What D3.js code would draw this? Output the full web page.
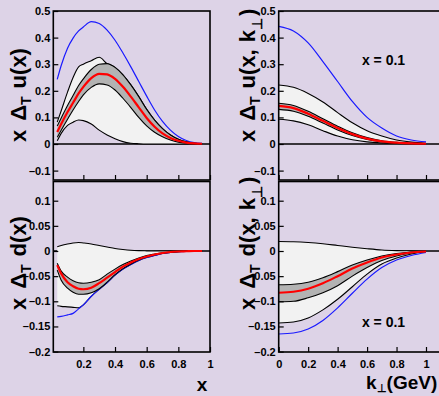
<!DOCTYPE html>
<html>
<head>
<meta charset="utf-8">
<script src="https://cdn.jsdelivr.net/npm/d3@7"></script>
<style>
  body { margin: 0; background: #ddd3e7; }
  svg { display: block; }
  .tick text { font-family: "Liberation Sans Narrow", "Liberation Sans", Arial, sans-serif; font-weight: bold; font-size: 11px; fill: #000; }
  .title { font-family: "Liberation Sans", Arial, sans-serif; font-weight: bold; fill: #000; }
  .note { font-family: "Liberation Sans Narrow", "Liberation Sans", Arial, sans-serif; font-weight: bold; fill: #000; }
</style>
</head>
<body>
<script>
// x grid for the two left panels, k_perp grid for the right ones
const xGrid = [0.035, 0.06, 0.1, 0.135, 0.17, 0.2, 0.25, 0.3, 0.35, 0.4, 0.45, 0.5, 0.55, 0.6, 0.65, 0.7, 0.75, 0.8, 0.85, 0.9, 0.95];
const kGrid = [0, 0.1, 0.2, 0.3, 0.4, 0.5, 0.6, 0.7, 0.8, 0.9, 1.0];

// x Δ_T u(x)
const uxBlue = [0.243, 0.295, 0.36, 0.398, 0.425, 0.44, 0.46, 0.453, 0.428, 0.39, 0.342, 0.29, 0.235, 0.18, 0.128, 0.085, 0.052, 0.028, 0.013, 0.005, 0.002];
const uxRed = [0.045, 0.075, 0.12, 0.155, 0.19, 0.215, 0.248, 0.264, 0.262, 0.245, 0.215, 0.178, 0.138, 0.098, 0.065, 0.04, 0.023, 0.012, 0.005, 0.002, 0.001];
const uxDarkUp = [0.068, 0.098, 0.145, 0.182, 0.22, 0.245, 0.28, 0.3, 0.302, 0.288, 0.26, 0.222, 0.178, 0.13, 0.09, 0.058, 0.034, 0.018, 0.008, 0.003, 0.001];
const uxDarkLo = [0.025, 0.052, 0.093, 0.128, 0.16, 0.185, 0.213, 0.226, 0.222, 0.203, 0.172, 0.137, 0.1, 0.068, 0.044, 0.027, 0.015, 0.007, 0.003, 0.001, 0];
const uxLightUp = [0.082, 0.125, 0.195, 0.25, 0.29, 0.3, 0.313, 0.326, 0.302, 0.288, 0.26, 0.222, 0.178, 0.13, 0.09, 0.058, 0.034, 0.018, 0.008, 0.003, 0.001];
const uxLightLo = [0.012, 0.04, 0.07, 0.082, 0.09, 0.088, 0.075, 0.052, 0.034, 0.02, 0.009, 0.003, 0.001, 0, 0, 0, 0, 0, 0, 0, 0];

// x Δ_T d(x)
const dxBlue = [-0.131, -0.13, -0.127, -0.124, -0.115, -0.107, -0.09, -0.076, -0.063, -0.048, -0.036, -0.027, -0.019, -0.013, -0.009, -0.005, -0.003, -0.0015, -0.0006, 0, 0];
const dxRed = [-0.028, -0.045, -0.062, -0.07, -0.075, -0.076, -0.073, -0.064, -0.053, -0.042, -0.031, -0.023, -0.016, -0.011, -0.007, -0.004, -0.002, -0.001, -0.0005, 0, 0];
const dxDarkUp = [-0.0245, -0.04, -0.052, -0.059, -0.063, -0.064, -0.062, -0.057, -0.046, -0.036, -0.027, -0.02, -0.014, -0.009, -0.006, -0.0035, -0.002, -0.001, -0.0005, 0, 0];
const dxDarkLo = [-0.038, -0.058, -0.074, -0.082, -0.086, -0.086, -0.083, -0.075, -0.062, -0.047, -0.035, -0.026, -0.018, -0.012, -0.008, -0.0045, -0.0025, -0.0012, -0.0005, 0, 0];
const dxLightUp = [0.0085, 0.011, 0.014, 0.016, 0.017, 0.016, 0.014, 0.011, 0.008, 0.005, 0.003, 0.0015, 0.0007, 0.0003, 0, 0, 0, 0, 0, 0, 0];
const dxLightLo = [-0.109, -0.11, -0.111, -0.112, -0.113, -0.107, -0.09, -0.076, -0.063, -0.048, -0.036, -0.027, -0.019, -0.013, -0.009, -0.005, -0.003, -0.0015, -0.0006, 0, 0];

// x Δ_T u(x, k⊥) at x = 0.1
const ukBlue = [0.4425, 0.425, 0.38, 0.31, 0.235, 0.16, 0.1, 0.06, 0.03, 0.015, 0.008];
const ukRed = [0.143, 0.135, 0.114, 0.087, 0.06, 0.037, 0.02, 0.01, 0.005, 0.002, 0.001];
const ukDarkUp = [0.153, 0.145, 0.123, 0.095, 0.067, 0.042, 0.024, 0.012, 0.006, 0.003, 0.001];
const ukDarkLo = [0.13, 0.123, 0.104, 0.079, 0.053, 0.032, 0.017, 0.008, 0.004, 0.002, 0.001];
const ukLightUp = [0.222, 0.213, 0.19, 0.158, 0.118, 0.08, 0.05, 0.03, 0.015, 0.007, 0.003];
const ukLightLo = [0.093, 0.087, 0.072, 0.05, 0.03, 0.016, 0.008, 0.004, 0.002, 0.001, 0];

// x Δ_T d(x, k⊥) at x = 0.1
const dkBlue = [-0.165, -0.163, -0.155, -0.138, -0.113, -0.084, -0.056, -0.033, -0.018, -0.009, -0.003];
const dkRed = [-0.083, -0.081, -0.075, -0.064, -0.05, -0.035, -0.023, -0.013, -0.007, -0.003, -0.001];
const dkDarkUp = [-0.067, -0.066, -0.062, -0.053, -0.041, -0.028, -0.018, -0.01, -0.005, -0.002, -0.001];
const dkDarkLo = [-0.101, -0.1, -0.093, -0.083, -0.069, -0.05, -0.033, -0.019, -0.01, -0.004, -0.001];
const dkLightUp = [0.019, 0.0185, 0.017, 0.0145, 0.011, 0.0075, 0.0045, 0.002, 0.0008, 0.0003, 0];
const dkLightLo = [-0.143, -0.141, -0.133, -0.117, -0.096, -0.071, -0.046, -0.026, -0.014, -0.006, -0.001];

// tick labels
const xTicksLeft = [0.2, 0.4, 0.6, 0.8, 1];
const xTicksRight = [0, 0.2, 0.4, 0.6, 0.8, 1];
const yTicksTop = [0.5, 0.4, 0.3, 0.2, 0.1, 0, -0.1];
const yTicksBottom = [0.1, 0.05, 0, -0.05, -0.1, -0.15, -0.2];

const W = 439, H = 396;
const svg = d3.select("body").append("svg").attr("width", W).attr("height", H);
svg.append("rect").attr("width", W).attr("height", H).attr("fill", "#ddd3e7");

// scales
const xLeft = d3.scaleLinear().domain([0, 1]).range([51.7, 210]);
const xRight = d3.scaleLinear().domain([0, 1]).range([278.7, 426]);
const yTop = d3.scaleLinear().domain([-0.1, 0.5]).range([170.6, 11]);
const yBot = d3.scaleLinear().domain([-0.2, 0.1]).range([351.6, 200.7]);

const panels = [
  { id: "tl", x: xLeft, y: yTop, grid: xGrid, box: [53.3, 11, 210, 180], ticksX: xTicksLeft, ticksY: yTicksTop, showX: false,
    blue: uxBlue, red: uxRed, darkUp: uxDarkUp, darkLo: uxDarkLo, lightUp: uxLightUp, lightLo: uxLightLo },
  { id: "bl", x: xLeft, y: yBot, grid: xGrid, box: [53.3, 181.5, 210, 352], ticksX: xTicksLeft, ticksY: yTicksBottom, showX: true,
    blue: dxBlue, red: dxRed, darkUp: dxDarkUp, darkLo: dxDarkLo, lightUp: dxLightUp, lightLo: dxLightLo },
  { id: "tr", x: xRight, y: yTop, grid: kGrid, box: [278.7, 11, 442, 180], ticksX: xTicksRight, ticksY: yTicksTop, showX: false,
    blue: ukBlue, red: ukRed, darkUp: ukDarkUp, darkLo: ukDarkLo, lightUp: ukLightUp, lightLo: ukLightLo },
  { id: "br", x: xRight, y: yBot, grid: kGrid, box: [278.7, 181.5, 442, 352], ticksX: xTicksRight, ticksY: yTicksBottom, showX: true,
    blue: dkBlue, red: dkRed, darkUp: dkDarkUp, darkLo: dkDarkLo, lightUp: dkLightUp, lightLo: dkLightLo }
];

panels.forEach(p => {
  const [x0, y0, x1, y1] = p.box;
  svg.append("clipPath").attr("id", "clip-" + p.id)
    .append("rect").attr("x", x0).attr("y", y0).attr("width", x1 - x0).attr("height", y1 - y0);
  const g = svg.append("g").attr("clip-path", `url(#clip-${p.id})`);

  const pts = (ys) => p.grid.map((v, i) => [v, ys[i]]);
  const line = d3.line().x(d => p.x(d[0])).y(d => p.y(d[1])).curve(d3.curveMonotoneX);
  const band = (up, lo) => d3.area().x((d, i) => p.x(p.grid[i])).y0((d, i) => p.y(lo[i])).y1((d, i) => p.y(up[i])).curve(d3.curveMonotoneX)(p.grid);

  // zero line
  g.append("line").attr("x1", x0).attr("x2", x1).attr("y1", p.y(0)).attr("y2", p.y(0))
    .attr("stroke", "#000").attr("stroke-width", 1.3);

  // wide light band
  g.append("path").attr("d", band(p.lightUp, p.lightLo)).attr("fill", "#f2f2f2");
  [p.lightUp, p.lightLo].forEach(s => g.append("path").attr("d", line(pts(s)))
    .attr("fill", "none").attr("stroke", "#000").attr("stroke-width", 1.1));

  // blue curve
  g.append("path").attr("d", line(pts(p.blue))).attr("fill", "none").attr("stroke", "#1a1aff").attr("stroke-width", 1.2);

  // narrow dark band
  g.append("path").attr("d", band(p.darkUp, p.darkLo)).attr("fill", "#b3b3b3");
  [p.darkUp, p.darkLo].forEach(s => g.append("path").attr("d", line(pts(s)))
    .attr("fill", "none").attr("stroke", "#000").attr("stroke-width", 1.1));

  // central red curve
  g.append("path").attr("d", line(pts(p.red))).attr("fill", "none").attr("stroke", "#ff0000").attr("stroke-width", 2.2);

  // axes
  const ay = svg.append("g").attr("transform", `translate(${x0},0)`)
    .call(d3.axisLeft(p.y).tickValues(p.ticksY).tickSize(-5).tickPadding(3).tickFormat(d => d3.format("~g")(d).replace("−", "–")));
  const ax = svg.append("g").attr("transform", `translate(0,${y1})`)
    .call(d3.axisBottom(p.x).tickValues(p.ticksX).tickSize(-5).tickPadding(8).tickFormat(p.showX ? d => String(d) : ""));
  [ay, ax].forEach(a => {
    a.select(".domain").remove();
    a.selectAll(".tick line").attr("stroke", "#000").attr("stroke-width", 1.2);
  });

  // frame
  svg.append("rect").attr("x", x0).attr("y", y0).attr("width", x1 - x0).attr("height", y1 - y0)
    .attr("fill", "none").attr("stroke", "#000").attr("stroke-width", 1.6);
});

// y titles (rotated)
function yTitle(xb, yb, fn, withK) {
  const t = svg.append("text").attr("class", "title").attr("font-size", 22)
    .attr("transform", `translate(${xb},${yb}) rotate(-90)`);
  t.append("tspan").text("x");
  t.append("tspan").attr("dx", 9).text("Δ");
  t.append("tspan").attr("font-size", 14).attr("dy", 5).text("T");
  t.append("tspan").attr("dx", 8).attr("dy", -5).text(fn + (withK ? "(x," : "(x)"));
  if (withK) {
    t.append("tspan").attr("dx", 7).text("k");
    t.append("tspan").attr("font-size", 14).attr("dy", 7).text("⊥");
    t.append("tspan").attr("dx", 2).attr("dy", -7).text(")");
  }
}
yTitle(26, 142, "u", false);
yTitle(26, 310, "d", false);
yTitle(255, 142, "u", true);
yTitle(255, 310, "d", true);

// annotations
svg.append("text").attr("class", "note").attr("font-size", 14).attr("x", 383.5).attr("y", 65).attr("text-anchor", "middle").text("x = 0.1");
svg.append("text").attr("class", "note").attr("font-size", 14).attr("x", 383.5).attr("y", 327).attr("text-anchor", "middle").text("x = 0.1");

// x titles
svg.append("text").attr("class", "note").attr("font-size", 19).attr("x", 202).attr("y", 391).attr("text-anchor", "middle").text("x");
const kt = svg.append("text").attr("class", "note").attr("font-size", 19).attr("x", 366).attr("y", 389);
kt.append("tspan").text("k");
kt.append("tspan").attr("font-size", 11).attr("dy", 3).text("⊥");
kt.append("tspan").attr("dy", -3).text("(GeV)");
</script>
</body>
</html>
